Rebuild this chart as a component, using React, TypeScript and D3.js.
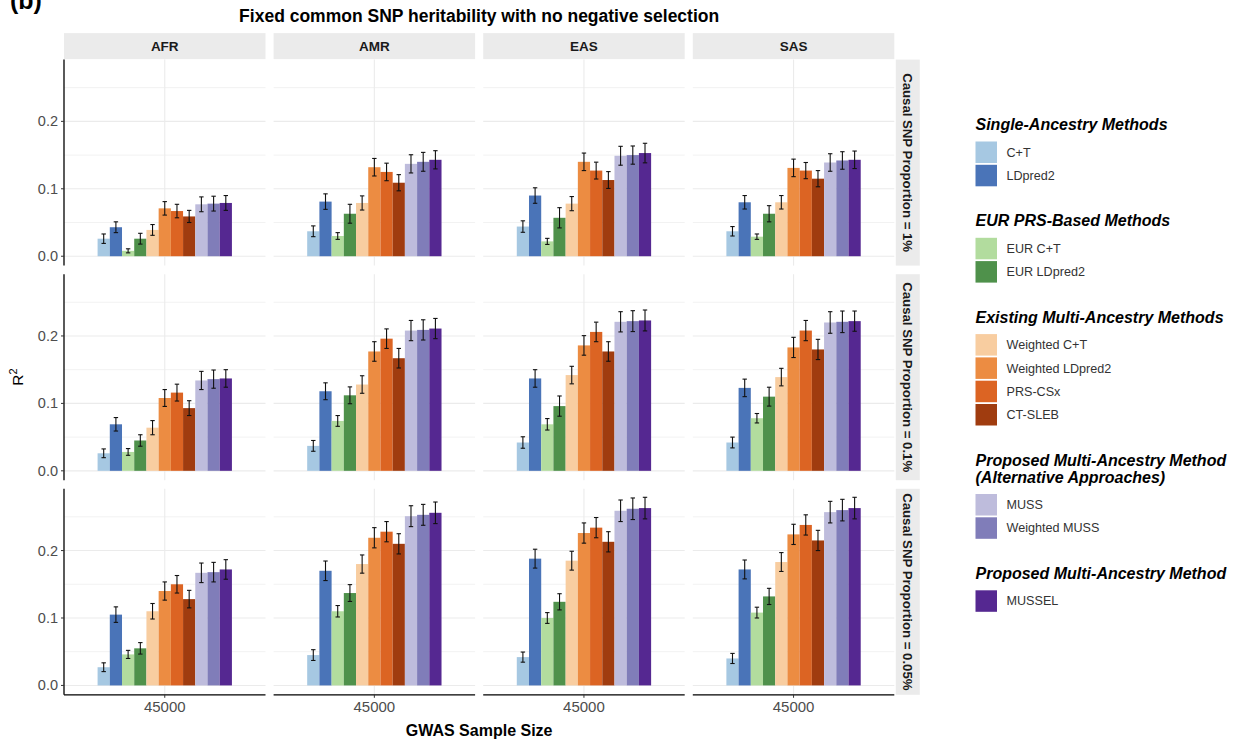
import React from 'react'
import * as d3 from 'd3'

const methods = ['C+T', 'LDpred2', 'EUR C+T', 'EUR LDpred2', 'Weighted C+T', 'Weighted LDpred2',
  'PRS-CSx', 'CT-SLEB', 'MUSS', 'Weighted MUSS', 'MUSSEL']
const colors = ['#a6c8e2', '#4a74b8', '#b2dc9e', '#4f914b', '#f8cda0', '#ec8c42',
  '#dc6423', '#a03c0f', '#bebcdc', '#807db9', '#552891']
const ancestries = ['AFR', 'AMR', 'EAS', 'SAS']
const proportions = ['Causal SNP Proportion = 1%', 'Causal SNP Proportion = 0.1%', 'Causal SNP Proportion = 0.05%']
const sampleSize = '45000'

// mean R2 per method, rows = causal proportion, one array per ancestry
const r2_1pct_AFR = [0.026, 0.043, 0.008, 0.026, 0.039, 0.071, 0.067, 0.059, 0.077, 0.078, 0.079]
const r2_1pct_AMR = [0.037, 0.081, 0.030, 0.063, 0.079, 0.132, 0.125, 0.109, 0.137, 0.140, 0.143]
const r2_1pct_EAS = [0.044, 0.090, 0.022, 0.057, 0.078, 0.140, 0.127, 0.113, 0.149, 0.150, 0.153]
const r2_1pct_SAS = [0.037, 0.080, 0.029, 0.063, 0.080, 0.131, 0.127, 0.115, 0.139, 0.142, 0.143]
const r2_01pct_AFR = [0.026, 0.069, 0.028, 0.045, 0.064, 0.108, 0.116, 0.093, 0.134, 0.136, 0.137]
const r2_01pct_AMR = [0.037, 0.118, 0.074, 0.112, 0.128, 0.177, 0.196, 0.167, 0.208, 0.209, 0.211]
const r2_01pct_EAS = [0.042, 0.137, 0.069, 0.096, 0.142, 0.186, 0.206, 0.177, 0.221, 0.222, 0.223]
const r2_01pct_SAS = [0.042, 0.123, 0.078, 0.110, 0.139, 0.183, 0.208, 0.180, 0.220, 0.221, 0.222]
const r2_005pct_AFR = [0.027, 0.105, 0.046, 0.055, 0.110, 0.140, 0.150, 0.128, 0.167, 0.168, 0.172]
const r2_005pct_AMR = [0.045, 0.170, 0.110, 0.137, 0.180, 0.219, 0.228, 0.210, 0.251, 0.253, 0.256]
const r2_005pct_EAS = [0.042, 0.188, 0.100, 0.124, 0.185, 0.226, 0.234, 0.213, 0.259, 0.262, 0.263]
const r2_005pct_SAS = [0.040, 0.172, 0.108, 0.132, 0.183, 0.224, 0.238, 0.215, 0.257, 0.260, 0.263]

// error bar half widths
const se_1pct_AFR = [0.007, 0.008, 0.003, 0.008, 0.008, 0.010, 0.010, 0.009, 0.011, 0.011, 0.011]
const se_1pct_AMR = [0.008, 0.0115, 0.005, 0.014, 0.0105, 0.013, 0.013, 0.012, 0.0135, 0.014, 0.0135]
const se_1pct_EAS = [0.0085, 0.0115, 0.0045, 0.015, 0.0105, 0.013, 0.0125, 0.0125, 0.014, 0.0135, 0.0145]
const se_1pct_SAS = [0.007, 0.010, 0.004, 0.012, 0.010, 0.013, 0.012, 0.012, 0.013, 0.013, 0.013]
const se_01pct_AFR = [0.0065, 0.010, 0.005, 0.0085, 0.0105, 0.0125, 0.0125, 0.011, 0.0135, 0.0135, 0.013]
const se_01pct_AMR = [0.008, 0.0125, 0.008, 0.0125, 0.013, 0.0145, 0.0145, 0.0145, 0.015, 0.015, 0.015]
const se_01pct_EAS = [0.0085, 0.013, 0.0085, 0.015, 0.013, 0.0145, 0.0145, 0.0145, 0.015, 0.0155, 0.0155]
const se_01pct_SAS = [0.008, 0.013, 0.007, 0.014, 0.013, 0.015, 0.015, 0.015, 0.016, 0.016, 0.015]
const se_005pct_AFR = [0.0065, 0.0115, 0.006, 0.0085, 0.0115, 0.0135, 0.013, 0.013, 0.0145, 0.0145, 0.0145]
const se_005pct_AMR = [0.008, 0.0145, 0.0085, 0.0125, 0.0135, 0.015, 0.015, 0.015, 0.0155, 0.0155, 0.016]
const se_005pct_EAS = [0.0075, 0.014, 0.008, 0.012, 0.014, 0.015, 0.015, 0.015, 0.016, 0.016, 0.016]
const se_005pct_SAS = [0.0075, 0.014, 0.008, 0.012, 0.014, 0.015, 0.015, 0.015, 0.016, 0.016, 0.016]

const yTicks = [0, 0.1, 0.2]
const yMinor = [0.05, 0.15, 0.25]

const legendGroups = [
  { title: ['Single-Ancestry Methods'], items: [0, 1] },
  { title: ['EUR PRS-Based Methods'], items: [2, 3] },
  { title: ['Existing Multi-Ancestry Methods'], items: [4, 5, 6, 7] },
  { title: ['Proposed Multi-Ancestry Method', '(Alternative Approaches)'], items: [8, 9] },
  { title: ['Proposed Multi-Ancestry Method'], items: [10] },
]

const means = [
  [r2_1pct_AFR, r2_1pct_AMR, r2_1pct_EAS, r2_1pct_SAS],
  [r2_01pct_AFR, r2_01pct_AMR, r2_01pct_EAS, r2_01pct_SAS],
  [r2_005pct_AFR, r2_005pct_AMR, r2_005pct_EAS, r2_005pct_SAS],
]
const errs = [
  [se_1pct_AFR, se_1pct_AMR, se_1pct_EAS, se_1pct_SAS],
  [se_01pct_AFR, se_01pct_AMR, se_01pct_EAS, se_01pct_SAS],
  [se_005pct_AFR, se_005pct_AMR, se_005pct_EAS, se_005pct_SAS],
]

const W = 1244, H = 740
const left = 64, top = 59.6
const panelW = 201.5, panelH = 206
const colStep = 209.6, rowStep = 214.6
const font = 'Liberation Sans, Arial, Helvetica, sans-serif'

const Panel = ({ row, col }: { row: number, col: number }) => {
  const x = d3.scaleLinear().domain([0.4, 1.6]).range([0, panelW])
  const y = d3.scaleLinear().domain([-0.0139, 0.2916]).range([panelH, 0])
  const band = d3.scaleBand().domain(methods).range([x(0.6), x(1.4)]).padding(0)
  const vals = means[row][col]
  const se = errs[row][col]
  const bw = band.bandwidth()
  return (
    <g transform={`translate(${left + col * colStep},${top + row * rowStep})`}>
      {yMinor.map(t => <line key={'m' + t} x1={0} x2={panelW} y1={y(t)} y2={y(t)} stroke="#f2f2f2" strokeWidth={1} />)}
      {yTicks.map(t => <line key={'g' + t} x1={0} x2={panelW} y1={y(t)} y2={y(t)} stroke="#ebebeb" strokeWidth={1.1} />)}
      <line x1={x(1)} x2={x(1)} y1={0} y2={panelH} stroke="#ebebeb" strokeWidth={1.1} />
      {methods.map((m, i) => (
        <rect key={m} x={band(m)} y={y(vals[i])} width={bw} height={y(0) - y(vals[i])} fill={colors[i]} />
      ))}
      {methods.map((m, i) => {
        const cx = band(m)! + bw / 2
        return (
          <g key={'e' + m} stroke="#111" strokeWidth={1.1}>
            <line x1={cx} x2={cx} y1={y(vals[i] - se[i])} y2={y(vals[i] + se[i])} />
            <line x1={cx - 2.2} x2={cx + 2.2} y1={y(vals[i] - se[i])} y2={y(vals[i] - se[i])} />
            <line x1={cx - 2.2} x2={cx + 2.2} y1={y(vals[i] + se[i])} y2={y(vals[i] + se[i])} />
          </g>
        )
      })}
      {row === 0 && (
        <g>
          <rect x={0} y={-26.5} width={panelW} height={26} fill="#ebebeb" />
          <text x={panelW / 2} y={-8.8} textAnchor="middle" fontSize={13.5} fontWeight="bold" fill="#1a1a1a">{ancestries[col]}</text>
        </g>
      )}
      {col === 3 && (
        <g>
          <rect x={panelW + 1.5} y={0} width={24} height={panelH} fill="#ebebeb" />
          <text transform={`translate(${panelW + 9},${panelH / 2}) rotate(90)`} textAnchor="middle"
            fontSize={13.2} fontWeight="bold" fill="#1a1a1a">{proportions[row]}</text>
        </g>
      )}
      {col === 0 && (
        <g>
          <line x1={0} x2={0} y1={0} y2={panelH} stroke="#000" strokeWidth={1.3} />
          {yTicks.map(t => (
            <g key={'t' + t}>
              <line x1={-3} x2={0} y1={y(t)} y2={y(t)} stroke="#333" strokeWidth={1} />
              <text x={-6} y={y(t)} dy="0.35em" textAnchor="end" fontSize={14.5} fill="#4d4d4d">{d3.format('.1f')(t)}</text>
            </g>
          ))}
        </g>
      )}
      {row === 2 && (
        <g>
          <line x1={0} x2={panelW} y1={panelH} y2={panelH} stroke="#000" strokeWidth={1.3} />
          <line x1={x(1)} x2={x(1)} y1={panelH} y2={panelH + 3} stroke="#333" strokeWidth={1} />
          <text x={x(1)} y={panelH + 17} textAnchor="middle" fontSize={15} fill="#4d4d4d">{sampleSize}</text>
        </g>
      )}
    </g>
  )
}

const Legend = () => {
  const lx = 975.5, key = 21.5, step = 23.3
  let cy = 130
  const out: React.ReactElement[] = []
  legendGroups.forEach((g, gi) => {
    g.title.forEach((t, ti) => {
      out.push(<text key={`t${gi}-${ti}`} x={lx} y={cy + ti * 17} fontSize={16} fontWeight="bold"
        fontStyle="italic" fill="#000">{t}</text>)
    })
    let ky = cy + (g.title.length - 1) * 17 + 11.5
    g.items.forEach(i => {
      out.push(<rect key={`k${i}`} x={lx} y={ky} width={key} height={key} fill={colors[i]} />)
      out.push(<text key={`l${i}`} x={lx + 31} y={ky + key / 2} dy="0.35em" fontSize={12.6} fill="#333">{methods[i]}</text>)
      ky += step
    })
    cy = ky - step + key + 40
  })
  return <g>{out}</g>
}

export default function App() {
  const cells: [number, number][] = []
  for (let r = 0; r < 3; r++) for (let c = 0; c < 4; c++) cells.push([r, c])
  const midX = left + (3 * colStep + panelW) / 2
  return (
    <svg width={W} height={H} style={{ position: 'absolute', left: 0, top: 0, background: '#fff' }} fontFamily={font}>
      <rect width={W} height={H} fill="#fff" />
      <text x={10} y={9} fontSize={25} fontWeight="bold">(b)</text>
      <text x={midX} y={22} textAnchor="middle" fontSize={17.5} fontWeight="bold">
        Fixed common SNP heritability with no negative selection
      </text>
      {cells.map(([r, c]) => <Panel key={`${r}-${c}`} row={r} col={c} />)}
      <text x={midX} y={736} textAnchor="middle" fontSize={16} fontWeight="bold">GWAS Sample Size</text>
      <text transform={`translate(23,377) rotate(-90)`} textAnchor="middle" fontSize={15.5}>
        R<tspan dy={-6} fontSize={11}>2</tspan>
      </text>
      <Legend />
    </svg>
  )
}
